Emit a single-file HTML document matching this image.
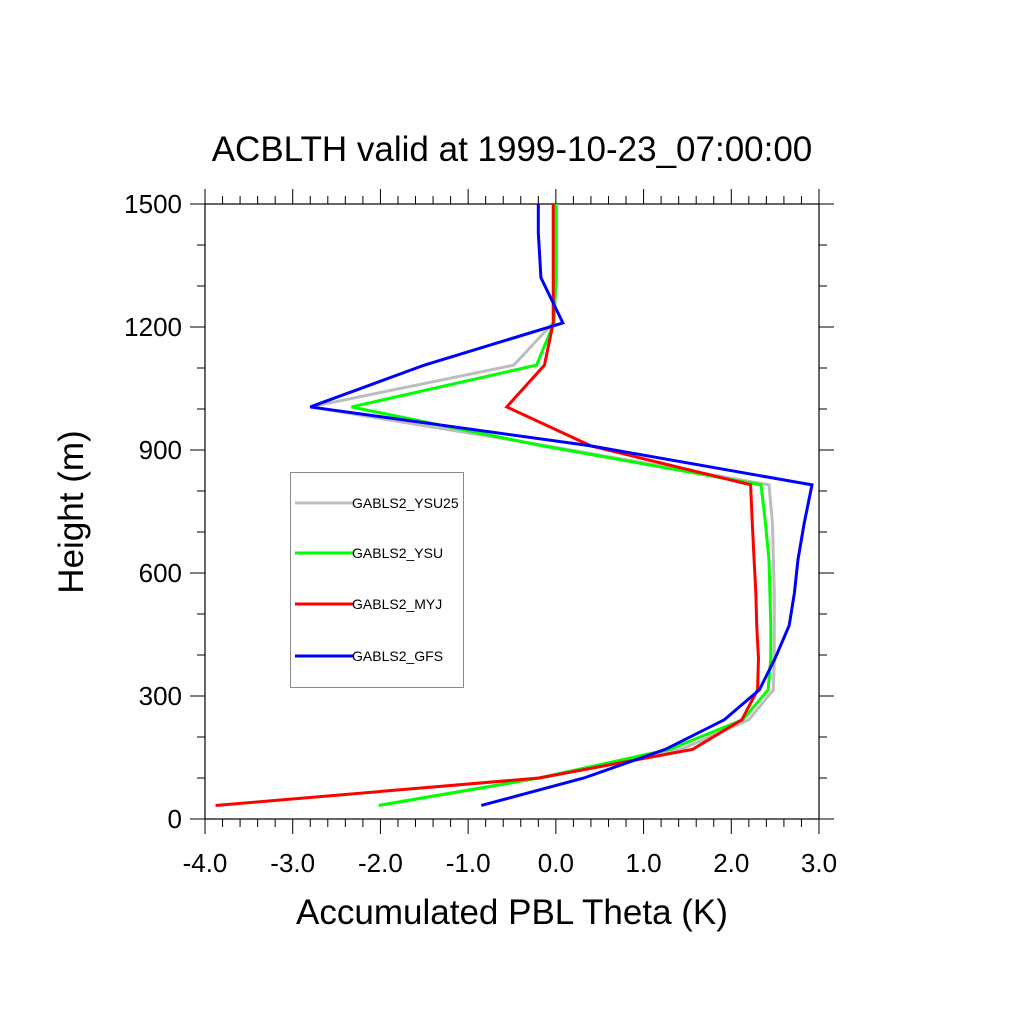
<!DOCTYPE html>
<html><head><meta charset="utf-8"><style>body{margin:0;background:#fff}svg{display:block;font-family:"Liberation Sans",sans-serif}</style></head>
<body>
<svg id="chart" width="1024" height="1024" xmlns="http://www.w3.org/2000/svg">
<rect width="1024" height="1024" fill="#fff"/>
<text x="512" y="161" font-size="35" text-anchor="middle">ACBLTH valid at 1999-10-23_07:00:00</text>
<text x="512" y="924" font-size="35" text-anchor="middle">Accumulated PBL Theta (K)</text>
<text transform="translate(83,512) rotate(-90)" font-size="35" text-anchor="middle">Height (m)</text>
<g id="axes"></g>
<g id="series"></g>
<g id="legend"></g>
</svg>
<script>
const heights=[33,100,170,242,315,392,472,552,632,720,815,910,1005,1107,1210,1320,1430,1500];
const seriesNames=["GABLS2_YSU25","GABLS2_YSU","GABLS2_MYJ","GABLS2_GFS"];
const ysu25=[-2.02,-0.2,1.43,2.2,2.48,2.49,2.49,2.49,2.48,2.47,2.43,-0.1,-2.8,-0.48,-0.03,0.01,0.01,0.01];
const ysu=[-2.02,-0.19,1.3,2.13,2.42,2.45,2.45,2.44,2.43,2.39,2.34,-0.15,-2.33,-0.22,-0.02,0,0,0];
const myj=[-3.88,-0.19,1.56,2.12,2.3,2.31,2.29,2.28,2.26,2.24,2.22,0.4,-0.56,-0.13,-0.03,-0.03,-0.03,-0.03];
const gfs=[-0.85,0.32,1.25,1.92,2.32,2.5,2.66,2.72,2.76,2.83,2.92,0.4,-2.8,-1.5,0.08,-0.17,-0.2,-0.2];
const xTicks=[-4,-3,-2,-1,0,1,2,3];
const xTickLabels=["-4.0","-3.0","-2.0","-1.0","0.0","1.0","2.0","3.0"];
const yTicks=[0,300,600,900,1200,1500];
const yTickLabels=["0","300","600","900","1200","1500"];
const colors=["#bdbdbd","#00ff00","#ff0000","#0000ff"];
const L=205,R=819,T=204,B=819;
const xs=v=>L+(v+4)/7*(R-L);
const ys=v=>B-v/1500*(B-T);
const NS="http://www.w3.org/2000/svg";
function mk(tag,attrs,parent){const e=document.createElementNS(NS,tag);for(const k in attrs)e.setAttribute(k,attrs[k]);parent.appendChild(e);return e;}
const ax=document.getElementById('axes');
const frame=mk('rect',{x:L,y:T,width:R-L,height:B-T,fill:'none',stroke:'#000','stroke-width':1.2},ax);


let d='';
for(let v=-4;v<=3.0001;v+=0.2){const x=xs(v);const maj=Math.abs(v-Math.round(v))<1e-6;const len=maj?15:8;d+=`M${x} ${B}v${len}M${x} ${T}v${-len}`;}
for(let v=0;v<=1500;v+=100){const y=ys(v);const maj=v%300===0;const len=maj?15:8;d+=`M${L} ${y}h${-len}M${R} ${y}h${len}`;}
const tk=mk('path',{d:d,stroke:'#000','stroke-width':1,fill:'none'},ax);


xTicks.forEach((v,i)=>{const t=mk('text',{x:xs(v),y:872,'font-size':26,'text-anchor':'middle'},ax);t.textContent=xTickLabels[i];

});
yTicks.forEach((v,i)=>{const t=mk('text',{x:182,y:ys(v)+9,'font-size':26,'text-anchor':'end'},ax);t.textContent=yTickLabels[i];

});
const sg=document.getElementById('series');
[ysu25,ysu,myj,gfs].forEach((arr,i)=>{const pts=arr.map((v,j)=>xs(v)+','+ys(heights[j])).join(' ');
const p=mk('polyline',{points:pts,fill:'none',stroke:colors[i],'stroke-width':3,'stroke-linejoin':'miter'},sg);

});
const lg=document.getElementById('legend');
mk('rect',{x:290.5,y:472.5,width:173,height:215,fill:'#fff',stroke:'#888','stroke-width':1},lg);
const ly=[503,553,604,656];
seriesNames.forEach((n,i)=>{const l=mk('line',{x1:295,x2:353,y1:ly[i],y2:ly[i],stroke:colors[i],'stroke-width':3},lg);


const t=mk('text',{x:352,y:ly[i]+5,'font-size':14},lg);t.textContent=n;

});
</script>
</body></html>
